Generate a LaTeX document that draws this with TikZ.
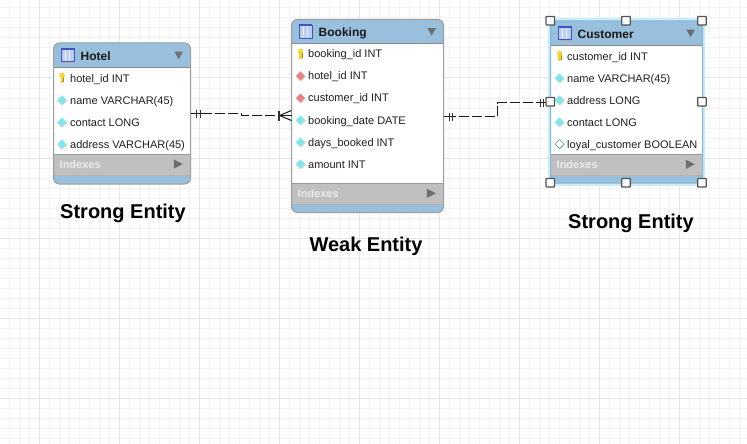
\documentclass[tikz,border=0pt]{standalone}
\usepackage{fontspec}
\setmainfont{Liberation Sans}
\usetikzlibrary{calc}
\definecolor{hdr}{HTML}{98BFDB}
\definecolor{idx}{HTML}{C0C0C0}
\definecolor{frameC}{HTML}{9C9C9C}
\definecolor{triC}{HTML}{6E6E6E}
\definecolor{minorG}{HTML}{F3F3F3}
\definecolor{majorG}{HTML}{E6E6E6}
\definecolor{diaC}{HTML}{7DE6EC}
\definecolor{diaR}{HTML}{EC7F7F}
\definecolor{keyC}{HTML}{F7D22E}
\definecolor{iconB}{HTML}{3D55C4}
\definecolor{iconF}{HTML}{BCCDF0}
\tikzset{
  erbox/.style={inner sep=0pt,outer sep=0pt,fill=hdr,draw=none},
  fieldtext/.style={inner sep=0pt,anchor=west,text height=8pt,text depth=0pt,font=\fontsize{11}{13}\selectfont,text=black!88},
  titletext/.style={inner sep=0pt,anchor=west,text height=8.6pt,text depth=0pt,font=\fontsize{12}{14}\selectfont\bfseries,text=black!90},
  idxtext/.style={inner sep=0pt,anchor=west,text height=8pt,text depth=0pt,font=\fontsize{11}{13}\selectfont\bfseries,text=white!92!black},
  caption/.style={inner sep=0pt,text height=14.3pt,text depth=4.2pt,font=\fontsize{20}{24}\selectfont\bfseries,text=black},
  rel/.style={draw=black!90,line width=1pt,dash pattern=on 10pt off 3pt},
  relsolid/.style={draw=black!90,line width=1pt},
  relbar/.style={draw=black!80,line width=1pt},
  handle/.style={draw=black!68,fill=white,line width=1.2pt,minimum size=8.5pt,inner sep=0pt,outer sep=0pt,rounded corners=0.5pt},
}
% name, x0, x1, y0, y1, header bottom, index top, index bottom, title
\newcommand{\erTable}[9]{%
  \pgfmathsetmacro{\bw}{#3-#2}\pgfmathsetmacro{\bh}{#5-#4}%
  \pgfmathsetmacro{\cx}{(#2+#3)/2}\pgfmathsetmacro{\cy}{(#4+#5)/2}%
  \node[erbox,minimum width=\bw pt,minimum height=\bh pt,rounded corners=\erR pt] (#1) at (\cx,\cy) {};
  \fill[white] (#2,#6) rectangle (#3,#7);
  \fill[idx] (#2,#7) rectangle (#3,#8);
  \draw[black!45,line width=0.7pt] (#2,#6) -- (#3,#6);
  \draw[black!40,line width=0.7pt] (#2,#7) -- (#3,#7);
  \draw[black!30,line width=0.7pt] (#2,#8) -- (#3,#8);
  \draw[\erF,line width=1pt,rounded corners=\erR pt] (#2,#4) rectangle (#3,#5);
  % table icon
  \pgfmathsetmacro{\ix}{#2+7}\pgfmathsetmacro{\iy}{#4+5}%
  \begin{scope}[shift={(\ix,\iy)}]
    \fill[black!30] (1,1) rectangle (14.6,14.6);
    \fill[iconF] (0,0) rectangle (13.8,13.8);
    \draw[white!75!iconF,line width=0.8pt] (4.6,2) -- (4.6,13) (9.2,2) -- (9.2,13);
    \draw[iconB,line width=0.7pt] (0.4,0.4) -- (0.4,13.4) -- (13.4,13.4) -- (13.4,0.4) -- cycle;
    \fill[iconB] (0,0) rectangle (13.8,1.6);
  \end{scope}
  \node[titletext] (#1title) at (#2+27,#4+13) {#9};
  \pgfmathsetmacro{\ty}{#4+13}\pgfmathsetmacro{\tr}{#3-7.7}\pgfmathsetmacro{\tl}{#3-16}\pgfmathsetmacro{\tm}{#3-11.85}%
  \fill[triC] (\tl,\ty-4.3) -- (\tr,\ty-4.3) -- (\tm,\ty+3.2) -- cycle;
  \pgfmathsetmacro{\iyy}{(#7+#8)/2-0.7}\pgfmathsetmacro{\il}{#3-16.7}\pgfmathsetmacro{\ir}{#3-7.7}%
  \node[idxtext] (#1idx) at (#2+6,\iyy) {Indexes};
  \fill[triC] (\il,\iyy-4.6) -- (\ir,\iyy) -- (\il,\iyy+4.6) -- cycle;
}
\newcommand{\iconKey}[2]{%
  \fill[keyC!65!black] (#1+0.4,#2-2) rectangle (#1+2.2,#2+4.4);
  \fill[keyC] (#1,#2-2.6) circle (2.8);
  \fill[keyC] (#1-1.4,#2-1) rectangle (#1+1.4,#2+4.6);
  \fill[white!45!keyC] (#1-0.8,#2-3.4) circle (1);
}
% x, y, fill colour, edge colour
\newcommand{\iconDia}[4]{%
  \fill[black!40] (#1,#2-4.2) -- (#1+5,#2+0.5) -- (#1,#2+5.2) -- (#1-4.6,#2+0.5) -- cycle;
  \fill[#4] (#1,#2-4.8) -- (#1+4.8,#2) -- (#1,#2+4.8) -- (#1-4.8,#2) -- cycle;
  \fill[#3] (#1,#2-3.8) -- (#1+3.8,#2) -- (#1,#2+3.8) -- (#1-3.8,#2) -- cycle;
}
% name, icon x, text x, y, kind (k/c/r/w), text
\newcommand{\erField}[6]{%
  \if#5k\iconKey{#2}{#4}\fi
  \if#5c\iconDia{#2}{#4}{diaC}{diaC!60!white}\fi
  \if#5r\iconDia{#2}{#4}{diaR}{diaR!60!white}\fi
  \if#5w\iconDia{#2}{#4}{white}{diaC!75!black}\fi
  \node[fieldtext] (#1) at (#3,#4) {#6};
}
\newcommand{\erR}{6}
\newcommand{\erF}{frameC}
\begin{document}
\begin{tikzpicture}[x=1pt,y=-1pt]
\useasboundingbox (0,0) rectangle (747,444);
\fill[white] (0,0) rectangle (747,444);
% grid
\foreach \gx in {9.5,19.5,...,739.5} \draw[minorG,line width=1pt] (\gx,0) -- (\gx,444);
\foreach \gy in {8,18,...,438} \draw[minorG,line width=1pt] (0,\gy) -- (747,\gy);
\foreach \gx in {39.5,119.5,...,719.5} \draw[majorG,line width=1pt] (\gx,0) -- (\gx,444);
\foreach \gy in {78,158,...,398} \draw[majorG,line width=1pt] (0,\gy) -- (747,\gy);
% selection glow
\draw[cyan!22!white,line width=5pt] (550.5,21) rectangle (702.5,183);
% tables
\erTable{hotel}{53.5}{190.5}{43}{184}{67.5}{154.5}{175}{Hotel}
\erField{h1}{62}{70}{78}{k}{hotel\_id INT}
\erField{h2}{62}{70}{100}{c}{name VARCHAR(45)}
\erField{h3}{62}{70}{122}{c}{contact LONG}
\erField{h4}{62}{70}{144}{c}{address VARCHAR(45)}
\erTable{booking}{291.5}{443.5}{19.5}{212.5}{43.5}{183.5}{204.5}{Booking}
\erField{b1}{300.5}{308}{54}{k}{booking\_id INT}
\erField{b2}{300.5}{308}{76}{r}{hotel\_id INT}
\erField{b3}{300.5}{308}{98}{r}{customer\_id INT}
\erField{b4}{300.5}{308}{120}{c}{booking\_date DATE}
\erField{b5}{300.5}{308}{142}{c}{days\_booked INT}
\erField{b6}{300.5}{308}{164}{c}{amount INT}
\renewcommand{\erR}{0.01}
\renewcommand{\erF}{cyan!20!hdr}
\erTable{customer}{550.5}{702.5}{21}{183}{45.5}{154.5}{175.5}{Customer}
\erField{c1}{559.5}{567}{56}{k}{customer\_id INT}
\erField{c2}{559.5}{567}{78}{c}{name VARCHAR(45)}
\erField{c3}{559.5}{567}{100}{c}{address LONG}
\erField{c4}{559.5}{567}{122}{c}{contact LONG}
\erField{c5}{559.5}{567}{144}{w}{loyal\_customer BOOLEAN}
% connector ends, on whole pixels
\coordinate (he) at (hotel.east);
\coordinate (bw) at ($(booking.west)+(0,-0.5)$);
\coordinate (be) at ($(booking.east)+(0,0.5)$);
\coordinate (cw) at ($(customer.west)+(0,0.5)$);
\coordinate (m1) at (241.5,0);
\coordinate (m2) at (497.5,0);
% connectors
\draw[rel,dash phase=1.5pt] (he) -| (m1 |- he) |- (bw);
\draw[rel,dash phase=10.7pt] (be) -| (m2 |- be) |- (cw);
\draw[relsolid] (he) -- ++(18,0);
\draw[relbar] ($(he)+(6,-4)$) -- ++(0,8) ($(he)+(10,-4)$) -- ++(0,8);
\draw[relsolid] (bw) -- ++(-12,0);
\draw[relbar,line width=2pt] ($(bw)+(-12.5,-5)$) -- ++(0,10);
\draw[relsolid] ($(bw)+(-12,0)$) -- ($(bw)+(0,-5)$) ($(bw)+(-12,0)$) -- ($(bw)+(0,5)$);
\draw[relsolid] (be) -- ++(11,0);
\draw[relbar] ($(be)+(6,-4)$) -- ++(0,8) ($(be)+(9,-4)$) -- ++(0,8);
\draw[relsolid] (cw) -- ++(-11,0);
\draw[relbar] ($(cw)+(-10,-4)$) -- ++(0,8) ($(cw)+(-7,-4)$) -- ++(0,8);
% handles
\node[handle] (s1) at (550.3,20.7) {};
\node[handle] (s2) at (626,20.7) {};
\node[handle] (s3) at (702,20.7) {};
\node[handle] (s4) at (550.3,101.7) {};
\node[handle] (s5) at (702,101.7) {};
\node[handle] (s6) at (550.3,182.7) {};
\node[handle] (s7) at (626,182.7) {};
\node[handle] (s8) at (702,182.7) {};
% captions
\node[caption] (cap1) at (123,213) {Strong Entity};
\node[caption] (cap2) at (366,246) {Weak Entity};
\node[caption] (cap3) at (631,223) {Strong Entity};
\end{tikzpicture}
\end{document}
